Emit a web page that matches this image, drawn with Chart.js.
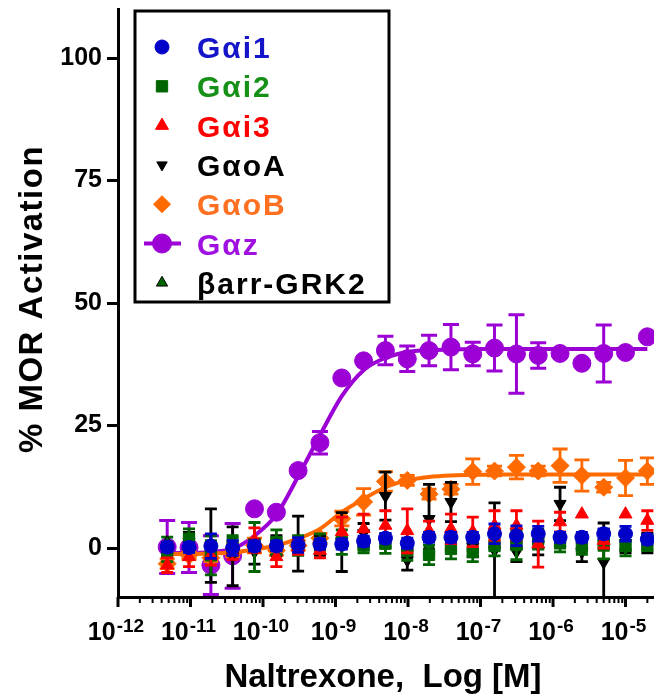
<!DOCTYPE html>
<html>
<head>
<meta charset="utf-8">
<script src="https://cdn.jsdelivr.net/npm/chart.js@4.4.1/dist/chart.umd.min.js"></script>
<style>
  html, body { margin: 0; padding: 0; background: #fff; }
  #wrap { width: 654px; height: 698px; }
</style>
</head>
<body>
<div id="wrap"><canvas id="mainChart" width="654" height="698"></canvas></div>
<script>
// Naltrexone concentrations (M), 2-fold dilutions down from 20 uM
const concentrations = [4.77e-12, 9.54e-12, 1.91e-11, 3.81e-11, 7.63e-11, 1.53e-10, 3.05e-10, 6.10e-10,
    1.22e-9, 2.44e-9, 4.88e-9, 9.77e-9, 1.95e-8, 3.91e-8, 7.81e-8, 1.56e-7, 3.13e-7, 6.25e-7,
    1.25e-6, 2.5e-6, 5e-6, 1e-5, 2e-5];

const seriesNames = ['G\u03b1i1', 'G\u03b1i2', 'G\u03b1i3', 'G\u03b1oA', 'G\u03b1oB', 'G\u03b1z', '\u03b2arr-GRK2'];

/* -------------------- DATA (% MOR activation, mean and SEM) -------------------- */

const gai1 = [0.2, 0.1, 0.4, 0.0, 0.4, 0.4, 0.6, 0.8, 0.8, 1.4, 2.0, 1.0, 2.2, 2.2, 2.2, 2.9, 2.5, 2.9, 2.2, 2.2, 2.9, 2.9, 1.8];
const gai1Err = [1.0, 1.0, 2.5, 1.5, 1.0, 1.0, 1.5, 1.0, 1.0, 1.0, 1.0, 1.0, 1.0, 1.0, 1.0, 2.0, 2.0, 1.5, 1.0, 1.0, 1.0, 1.5, 1.0];

const gai2 = [-0.8, 1.9, -1.5, 0.5, 0.2, 1.2, 0.5, 0.9, 1.2, 0.5, 0.9, -0.5, -1.4, -0.2, -0.8, 0.4, 0.6, 1.8, 1.2, 0.2, 0.8, 0.4, 1.0];
const gai2Err = [2.0, 2.0, 4.0, 2.0, 5.0, 2.5, 2.0, 2.0, 2.5, 1.5, 2.0, 2.0, 2.0, 2.0, 2.0, 2.0, 3.0, 2.0, 2.0, 1.5, 3.0, 2.0, 1.5];

const gai3 = [-3.5, -1.8, -1.5, -0.8, 1.6, -1.8, 0.2, -0.5, 3.3, 3.9, 4.6, 3.5, 3.5, 3.9, 3.3, 4.6, 4.6, 0.8, 5.3, 6.9, 1.5, 6.9, 5.6];
const gai3Err = [1.5, 2.0, 2.0, 1.5, 2.5, 2.0, 1.5, 1.5, 3.0, 3.0, 3.0, 4.5, 2.0, 3.0, 3.0, 3.0, 3.0, 4.7, 2.0, 0, 1.5, 0, 2.0];

const gaoA = [0.0, 1.2, 0.5, -1.7, -0.8, 0.5, 0.9, 0.5, 1.2, 3.0, 10.6, -2.5, 5.9, 9.4, 0.2, -0.5, -0.8, 0.6, 9.0, -0.8, -2.9, 1.0, 1.0];
const gaoAErr = [1.0, 2.0, 7.5, 6.0, 2.5, 2.0, 5.6, 2.0, 6.0, 2.0, 4.9, 2.0, 7.1, 4.0, 2.0, 9.7, 2.0, 2.0, 3.4, 2.0, 8.0, 2.0, 2.0];

const gaoB = [-3.2, -1.5, -2.0, -1.0, 0.5, -0.5, 0.5, 2.0, 6.0, 9.4, 13.6, 13.8, 11.0, 12.0, 15.6, 15.7, 16.5, 15.7, 16.8, 14.8, 12.4, 14.3, 15.7];
const gaoBErr = [1.0, 0.8, 0.8, 0.8, 1.5, 1.0, 1.0, 1.0, 1.5, 2.7, 2.0, 1.0, 1.0, 1.0, 2.6, 1.0, 2.4, 1.0, 3.4, 3.2, 1.0, 3.6, 2.7];
const gaoBFit = [-1.2, -1.2, -1.1, -0.9, -0.3, 0.5, 1.9, 3.9, 7.3, 10.0, 12.4, 13.8, 14.5, 14.8, 14.9, 15.0, 15.0, 15.0, 15.0, 15.0, 15.0, 15.0, 15.0];

const gaz = [0.2, 0.1, -3.5, -1.6, 8.0, 7.3, 15.8, 21.5, 34.7, 38.2, 40.3, 38.6, 40.3, 41.0, 39.6, 40.8, 39.6, 39.3, 39.7, 37.7, 39.7, 39.9, 43.1];
const gazErr = [5.4, 5.1, 6.0, 6.6, 0, 0, 0, 2.3, 0, 0, 2.9, 2.6, 3.1, 4.6, 2.4, 4.7, 8.0, 2.6, 0, 0, 5.8, 0, 0];
const gazFit = [-1.0, -1.0, -0.8, -0.2, 2.5, 6.8, 14.6, 23.0, 31.0, 36.3, 38.8, 40.0, 40.4, 40.5, 40.6, 40.6, 40.6, 40.6, 40.6, 40.6, 40.6, 40.6, 40.6];

const barr = [1.2, 1.5, 0.5, 1.0, 0.5, 0.5, 0.5, 0.5, 1.0, 1.0, 1.0, 0.5, 0.5, 0.5, 0.5, 1.0, 1.0, 1.0, 1.0, 0.5, 0.5, 0.5, 0.5];
const barrErr = [1, 1, 1, 1, 1, 1, 1, 1, 1, 1, 1, 1, 1, 1, 1, 1, 1, 1, 1, 1, 1, 1, 1];

const yTickValues = [0, 25, 50, 75, 100];
const xTickExps = [-12, -11, -10, -9, -8, -7, -6, -5];

/* -------------------- STYLE -------------------- */

const FONT = "'Liberation Sans', Arial, sans-serif";
const BLUE = '#0000c8';
const GREEN = '#006400';
const RED = '#ff0000';
const BLACK = '#000000';
const ORANGE = '#ff6a00';
const PURPLE = '#9b00d4';

Chart.defaults.font.family = FONT;

function pts(vals) {
    return concentrations.map((c, i) => ({ x: c, y: vals[i] }));
}

function markers(label, vals, errs, color, style, radius, extra) {
    return Object.assign({
        label: label,
        data: pts(vals),
        errors: errs,
        capHalf: 6,
        showLine: false,
        pointStyle: style,
        pointRadius: radius,
        pointHoverRadius: radius,
        pointBackgroundColor: color,
        pointBorderColor: color,
        pointBorderWidth: 1,
        borderColor: color,
        backgroundColor: color
    }, extra || {});
}

function fitLine(label, vals, color, order) {
    return {
        label: label,
        data: pts(vals),
        showLine: true,
        pointRadius: 0,
        borderColor: color,
        borderWidth: 4,
        cubicInterpolationMode: 'monotone',
        order: order
    };
}

/* -------------------- PLUGINS -------------------- */

// error bars drawn just before each dataset so markers sit on top of them
const errorBars = {
    id: 'errorBars',
    beforeDatasetDraw(chart, args) {
        const ds = chart.data.datasets[args.index];
        if (!ds.errors) return;
        const { ctx, chartArea: a, scales: { x, y } } = chart;
        ctx.save();
        ctx.beginPath();
        ctx.rect(a.left, a.top, a.right - a.left, a.bottom - a.top);
        ctx.clip();
        ctx.strokeStyle = ds.borderColor;
        ctx.lineWidth = ds.errWidth || 2.8;
        ds.data.forEach((p, i) => {
            const e = ds.errors[i];
            if (!e) return;
            const px = x.getPixelForValue(p.x);
            const top = y.getPixelForValue(p.y + e);
            const bot = y.getPixelForValue(p.y - e);
            const w = ds.capHalf;
            ctx.beginPath();
            ctx.moveTo(px, top); ctx.lineTo(px, bot);
            ctx.moveTo(px - w, top); ctx.lineTo(px + w, top);
            ctx.moveTo(px - w, bot); ctx.lineTo(px + w, bot);
            ctx.stroke();
        });
        ctx.restore();
    }
};

function drawMarker(ctx, style, radius, rotation, x, y) {
    if (Chart.helpers && Chart.helpers.drawPoint) {
        Chart.helpers.drawPoint(ctx, { pointStyle: style, radius: radius, rotation: rotation, borderWidth: 1 }, x, y);
    }
}

const axisExtras = {
    id: 'axisExtras',
    afterDraw(chart) {
        const { ctx, chartArea: a, scales: { x } } = chart;
        ctx.save();

        // log ticks below the x axis
        ctx.strokeStyle = '#000';
        x.ticks.forEach(t => {
            const px = x.getPixelForValue(t.value);
            if (px > a.right + 1) return;
            ctx.lineWidth = t.major ? 3 : 2;
            ctx.beginPath();
            ctx.moveTo(px, a.bottom);
            ctx.lineTo(px, a.bottom + (t.major ? 10 : 6));
            ctx.stroke();
        });

        // 10^n labels
        ctx.fillStyle = '#000';
        ctx.textAlign = 'left';
        ctx.textBaseline = 'alphabetic';
        xTickExps.forEach(e => {
            const px = x.getPixelForValue(Math.pow(10, e));
            const sup = '-' + Math.abs(e);
            ctx.font = 'bold 25px ' + FONT;
            const w1 = ctx.measureText('10').width;
            ctx.font = 'bold 19px ' + FONT;
            const w2 = ctx.measureText(sup).width;
            const x0 = px - (w1 + w2 + 1) / 2 - 2;
            ctx.font = 'bold 25px ' + FONT;
            ctx.fillText('10', x0, 640);
            ctx.font = 'bold 19px ' + FONT;
            ctx.fillText(sup, x0 + w1 + 1, 632);
        });

        // axis titles
        ctx.font = 'bold 33px ' + FONT;
        ctx.textAlign = 'center';
        ctx.fillText('Naltrexone,  Log [M]', 383, 687);

        ctx.save();
        ctx.translate(42, 299);
        ctx.rotate(-Math.PI / 2);
        ctx.letterSpacing = '1.5px';
        ctx.fillText('% MOR Activation', 0, 0);
        ctx.restore();

        // legend box
        ctx.fillStyle = '#fff';
        ctx.fillRect(135, 11, 254, 291);
        ctx.lineWidth = 3;
        ctx.strokeStyle = '#000';
        ctx.strokeRect(135, 11, 254, 291);

        const items = [
            { text: seriesNames[0], color: BLUE, textColor: '#1414c8', style: 'circle', r: 7 },
            { text: seriesNames[1], color: GREEN, textColor: '#169016', style: 'rect', r: 8 },
            { text: seriesNames[2], color: RED, textColor: RED, style: 'triangle', r: 7.5 },
            { text: seriesNames[3], color: BLACK, textColor: BLACK, style: 'triangle', r: 6, rot: 180 },
            { text: seriesNames[4], color: ORANGE, textColor: '#ff7020', style: 'rectRot', r: 8.5 },
            { text: seriesNames[5], color: PURPLE, textColor: '#a010e0', style: 'circle', r: 9.5, line: true },
            { text: seriesNames[6], color: GREEN, textColor: BLACK, style: 'triangle', r: 6.5, edge: BLACK }
        ];
        ctx.font = 'bold 30px ' + FONT;
        ctx.textAlign = 'left';
        ctx.letterSpacing = '2px';
        items.forEach((it, i) => {
            const cy = 47 + i * 39.3;
            if (it.line) {
                ctx.strokeStyle = it.color;
                ctx.lineWidth = 4;
                ctx.beginPath();
                ctx.moveTo(144, cy);
                ctx.lineTo(181, cy);
                ctx.stroke();
            }
            ctx.fillStyle = it.color;
            ctx.strokeStyle = it.edge || it.color;
            ctx.lineWidth = 1;
            drawMarker(ctx, it.style, it.r, it.rot || 0, 162, cy);
            ctx.fillStyle = it.textColor;
            ctx.fillText(it.text, 197, cy + 11);
        });

        ctx.restore();
    }
};

/* -------------------- CHART -------------------- */

const datasets = [
    markers(seriesNames[0], gai1, gai1Err, BLUE, 'circle', 7, { order: 1 }),
    markers(seriesNames[2], gai3, gai3Err, RED, 'triangle', 7.5, { order: 2 }),
    markers(seriesNames[1], gai2, gai2Err, GREEN, 'rect', 8, { order: 3 }),
    markers(seriesNames[6], barr, barrErr, GREEN, 'triangle', 6.5, { order: 4, pointBorderColor: BLACK }),
    markers(seriesNames[3], gaoA, gaoAErr, BLACK, 'triangle', 7, { order: 5, pointRotation: 180 }),
    fitLine('G\u03b1oB fit', gaoBFit, ORANGE, 6),
    markers(seriesNames[4], gaoB, gaoBErr, ORANGE, 'rectRot', 9, { order: 7, capHalf: 7.5 }),
    markers(seriesNames[5], gaz, gazErr, PURPLE, 'circle', 9, { order: 8, capHalf: 8, errWidth: 3 }),
    fitLine('G\u03b1z fit', gazFit, PURPLE, 9)
];

new Chart(document.getElementById('mainChart'), {
    type: 'scatter',
    data: { datasets: datasets },
    options: {
        responsive: false,
        animation: false,
        devicePixelRatio: 1,
        layout: { padding: { top: 9, right: 0, bottom: 0, left: 0 }, autoPadding: false },
        plugins: {
            legend: { display: false },
            tooltip: { enabled: false }
        },
        scales: {
            x: {
                type: 'logarithmic',
                min: 1e-12,
                max: 2.47e-5,
                afterBuildTicks: s => {
                    const t = [];
                    xTickExps.forEach(e => {
                        for (let m = 1; m <= 9; m++) {
                            t.push({ value: m * Math.pow(10, e), major: m === 1 });
                        }
                    });
                    s.ticks = t.filter(v => v.value <= s.max * 1.0001);
                },
                afterFit: s => {
                    s.height = 101;
                    s.paddingLeft = 0;
                    s.paddingRight = 0;
                },
                grid: { display: false },
                border: { display: true, color: '#000', width: 3 },
                ticks: { display: false }
            },
            y: {
                min: -10,
                max: 110,
                afterBuildTicks: s => { s.ticks = yTickValues.map(v => ({ value: v })); },
                afterFit: s => {
                    s.width = 118;
                    s.paddingTop = 0;
                    s.paddingBottom = 0;
                },
                grid: { drawOnChartArea: false, drawTicks: true, tickLength: 11, tickWidth: 3, tickColor: '#000' },
                border: { display: true, color: '#000', width: 3 },
                ticks: { font: { size: 25, weight: 'bold' }, color: '#000', padding: 5 }
            }
        }
    },
    plugins: [errorBars, axisExtras]
});
</script>
</body>
</html>
